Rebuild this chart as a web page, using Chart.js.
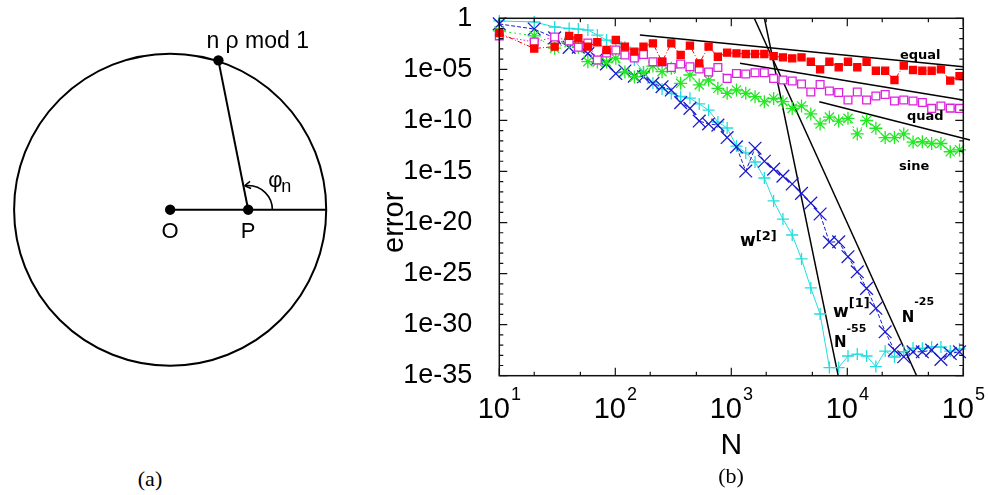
<!DOCTYPE html>
<html>
<head>
<meta charset="utf-8">
<script src="https://cdn.jsdelivr.net/npm/chart.js"></script>
<style>
  html, body { margin: 0; padding: 0; background: #fff; }
  body { width: 988px; height: 495px; position: relative; overflow: hidden; }
  #panelA { position: absolute; left: 0; top: 0; width: 340px; height: 420px; }
  #panelB { position: absolute; left: 380px; top: 0; width: 608px; height: 495px; }
  .cap { position: absolute; font-family: 'Liberation Serif', serif; font-size: 22px; color: #000;
         transform: translate(-50%, -50%); white-space: nowrap; }
</style>
</head>
<body>
<div id="panelA"><canvas id="circleChart"></canvas></div>
<div id="panelB"><canvas id="errorChart"></canvas></div>
<div class="cap" style="left:150px; top:479px">(a)</div>
<div class="cap" style="left:731px; top:476px">(b)</div>
<script>
// ---- panel (a): unit circle geometry, in circle units ----
const circleRadius = 1;
const pointO = { x: 0, y: 0 };
const pointP = { x: 0.5, y: 0 };
const pointQ = { x: 0.309, y: 0.951 };   // n rho mod 1 on the circle
const pointEdge = { x: 1, y: 0 };
const phiArcRadius = 0.155;

// ---- panel (b): error vs N ----
const nValues = [10, 20, 30, 40, 48, 58, 70, 84, 101, 121, 146, 175, 211, 253, 304, 366, 440, 529, 637, 766,
  921, 1108, 1332, 1602, 1927, 2317, 2787, 3351, 4030, 4847, 5829, 7010, 8430, 10138, 12192, 14662, 17633,
  21206, 25502, 30669, 36882, 44354, 53340, 64147, 77143, 92772];

const errEqual = [3.6e-2, 1.1e-3, 1.7e-3, 1.9e-2, 1.1e-2, 1.7e-3, 4.5e-3, 7.9e-4, 7.4e-3, 1.7e-3,
  5.4e-4, 1.7e-3, 3.5e-3, 5.6e-5, 3.5e-3, 2.6e-4, 2.1e-3, 3.9e-5, 1.7e-3, 1.7e-4,
  4.3e-4, 3.7e-4, 3.2e-4, 3.2e-4, 3.2e-4, 2.0e-4, 1.5e-4, 1.2e-4, 1.5e-4, 5.6e-5,
  1.0e-5, 5.6e-5, 1.6e-5, 5.6e-5, 1.6e-5, 5.6e-5, 7.4e-6, 7.4e-6, 9.1e-7, 2.3e-5,
  8.7e-6, 7.4e-6, 7.4e-6, 1.0e-5, 7.8e-7, 2.2e-6];

const errQuad = [1.9e-2, 4.8e-3, 1.5e-2, 6.0e-3, 1.5e-3, 3.8e-3, 8.3e-5, 4.0e-4, 7.9e-4, 2.6e-4,
  1.3e-4, 2.8e-4, 5.6e-5, 5.2e-5, 1.5e-5, 3.3e-5, 1.8e-5, 1.1e-5, 5.5e-6, 1.5e-5,
  1.3e-6, 3.9e-6, 3.5e-6, 4.7e-6, 4.7e-6, 1.3e-6, 9.1e-7, 7.2e-7, 3.7e-7, 6.0e-8,
  3.3e-7, 7.6e-8, 5.4e-8, 1.0e-8, 6.0e-8, 1.0e-8, 2.5e-8, 3.5e-8, 7.9e-9, 9.8e-9,
  7.9e-9, 5.6e-9, 1.5e-9, 2.6e-9, 1.6e-9, 1.5e-9];

const errSine = [5.8e-2, 1.9e-2, 1.2e-3, 4.1e-3, 1.5e-3, 5.6e-5, 5.2e-5, 5.2e-5, 1.2e-4, 5.5e-6,
  1.8e-6, 4.9e-6, 2.1e-5, 5.9e-6, 1.3e-5, 4.3e-7, 2.8e-6, 3.0e-7, 9.1e-7, 1.4e-7,
  4.5e-8, 9.5e-8, 4.5e-8, 2.1e-8, 6.8e-9, 1.4e-8, 6.8e-9, 1.5e-9, 2.6e-9, 4.3e-10,
  4.5e-11, 2.1e-10, 8.7e-11, 1.6e-10, 4.7e-12, 9.8e-11, 1.7e-11, 2.1e-12, 2.1e-12, 4.7e-12,
  7.6e-13, 8.1e-13, 5.5e-13, 5.5e-13, 8.5e-14, 1.3e-13];

const errW1 = [2.8e-1, 8.9e-2, 1.2e-2, 1.4e-3, 1.5e-3, 3.5e-4, 1.1e-4, 3.5e-5, 3.9e-6, 6.9e-6,
  2.2e-6, 1.9e-6, 4.3e-7, 2.0e-7, 9.5e-8, 5.6e-9, 1.5e-9, 8.7e-11, 4.5e-11, 3.5e-11,
  2.1e-12, 2.6e-13, 1.1e-15, 1.9e-13, 1.0e-14, 1.7e-15, 3.5e-16, 5.9e-17, 7.2e-18, 8.1e-19,
  6.8e-20, 1.2e-22, 1.3e-22, 4.5e-24, 1.5e-25, 3.6e-27, 4.0e-29, 2.0e-31, 3.2e-33, 7.2e-34,
  2.2e-33, 2.2e-33, 3.2e-33, 4.0e-34, 1.5e-33, 2.2e-33];

const errW2 = [5.5e-1, 4.4e-1, 1.4e-1, 1.0e-1, 8.9e-2, 7.1e-2, 2.3e-2, 7.4e-3, 4.8e-3, 1.5e-3,
  8.3e-5, 5.5e-6, 4.7e-7, 1.2e-7, 4.3e-8, 2.2e-8, 1.5e-8, 4.1e-9, 1.0e-9, 6.9e-11,
  1.8e-11, 3.1e-13, 6.5e-14, 8.5e-15, 2.3e-16, 1.3e-18, 2.2e-20, 6.0e-22, 2.7e-24, 3.9e-27,
  1.1e-29, 6.3e-35, 6.3e-35, 8.5e-34, 1.3e-33, 8.5e-34, 7.9e-35, 2.6e-33, 6.8e-34, 2.3e-33,
  5.1e-33, 4.8e-33, 6.5e-33, 6.5e-33, 2.6e-33, 4.1e-33];

// straight reference lines: [N start, N end], [err start, err end]
const fitEqualN = [163, 100000],  fitEqualErr = [2.3e-2, 1.8e-5];
const fitQuadN = [1189, 100000],  fitQuadErr = [3.9e-5, 1.0e-8];
const fitSineN = [5740, 114300],  fitSineErr = [6.8e-9, 1.2e-12];
const slope55N = [1930, 8350],    slope55Err = [1, 1e-35];
const slope25N = [1578, 39600],   slope25Err = [1, 1e-35];

const xMajorTicks = [10, 100, 1000, 10000, 100000];
const xMinorTicks = [20, 50, 200, 500, 2000, 5000, 20000, 50000];
const yLabelTicks = [1, 1e-5, 1e-10, 1e-15, 1e-20, 1e-25, 1e-30, 1e-35];
const yMinorTicks = [1e-1, 1e-2, 1e-3, 1e-4, 1e-6, 1e-7, 1e-8, 1e-9, 1e-11, 1e-12, 1e-13, 1e-14,
  1e-16, 1e-17, 1e-18, 1e-19, 1e-21, 1e-22, 1e-23, 1e-24, 1e-26, 1e-27, 1e-28, 1e-29,
  1e-31, 1e-32, 1e-33, 1e-34];

// in-plot labels, anchored in data coordinates
const plotLabels = [
  { text: 'equal', sup: '', n: 28400, err: 1e-4, size: 13 },
  { text: 'quad', sup: '', n: 32700, err: 1.1e-10, size: 13 },
  { text: 'sine', sup: '', n: 27900, err: 1.4e-15, size: 13 },
  { text: 'w', sup: '[2]', n: 1190, err: 5e-23, size: 17, supSize: 13, raise: 6 },
  { text: 'w', sup: '[1]', n: 7540, err: 5.5e-30, size: 17, supSize: 13, raise: 10 },
  { text: 'N', sup: '-25', n: 29400, err: 1.9e-30, size: 15, supSize: 11, raise: 17 },
  { text: 'N', sup: '-55', n: 7680, err: 6.9e-33, size: 15, supSize: 11, raise: 15 },
];

Chart.defaults.font.family = '"Liberation Sans", Arial, sans-serif';
Chart.defaults.color = '#000';

function toPoints(xs, ys) {
  return xs.map((x, i) => ({ x, y: ys[i] })).filter((p) => p.y != null);
}

// ---------- panel (a) ----------
const circleDecor = {
  id: 'circleDecor',
  afterDatasetsDraw(chart) {
    const { ctx, scales: { x, y } } = chart;
    const cx = x.getPixelForValue(pointO.x);
    const cy = y.getPixelForValue(pointO.y);
    const r = x.getPixelForValue(circleRadius) - cx;
    ctx.save();
    ctx.strokeStyle = '#000';
    ctx.lineWidth = 2;
    ctx.beginPath();
    ctx.arc(cx, cy, r, 0, Math.PI * 2);
    ctx.stroke();

    // angle phi_n at P
    const px = x.getPixelForValue(pointP.x);
    const py = y.getPixelForValue(pointP.y);
    const qx = x.getPixelForValue(pointQ.x);
    const qy = y.getPixelForValue(pointQ.y);
    const ar = x.getPixelForValue(phiArcRadius) - cx;
    const phi = Math.atan2(py - qy, qx - px);
    const end = phi - 0.05;
    ctx.lineWidth = 1.6;
    ctx.beginPath();
    ctx.arc(px, py, ar, 0, -end, true);
    ctx.stroke();
    const ex = px + ar * Math.cos(end);
    const ey = py - ar * Math.sin(end);
    const bx = Math.sin(end), by = Math.cos(end); // pointing back along the arc
    ctx.beginPath();
    for (const s of [0.55, -0.55]) {
      const rx = bx * Math.cos(s) - by * Math.sin(s);
      const ry = bx * Math.sin(s) + by * Math.cos(s);
      ctx.moveTo(ex + rx * 7, ey + ry * 7);
      ctx.lineTo(ex, ey);
    }
    ctx.stroke();

    ctx.fillStyle = '#000';
    ctx.textBaseline = 'alphabetic';
    ctx.font = '23px "Liberation Sans"';
    ctx.textAlign = 'left';
    ctx.fillText('n ρ mod 1', qx - 12, qy - 12);
    ctx.textAlign = 'center';
    ctx.font = '22px "Liberation Sans"';
    ctx.fillText('O', cx, cy + 28);
    ctx.fillText('P', px, py + 28);
    ctx.textAlign = 'left';
    ctx.fillText('φ', px + 20, py - 23);
    ctx.font = '18px "Liberation Sans"';
    ctx.fillText('n', px + 33, py - 18);
    ctx.restore();
  },
};

new Chart(document.getElementById('circleChart'), {
  type: 'scatter',
  data: {
    datasets: [
      { data: [pointO, pointEdge], showLine: true, borderColor: '#000', borderWidth: 2, pointRadius: 0, clip: false },
      { data: [pointP, pointQ], showLine: true, borderColor: '#000', borderWidth: 2, pointRadius: 0, clip: false },
      { data: [pointO, pointP, pointQ], showLine: false, pointRadius: 5.2, pointBorderWidth: 0,
        pointBackgroundColor: '#000', clip: false },
    ],
  },
  options: {
    responsive: true,
    maintainAspectRatio: false,
    animation: false,
    layout: { padding: 0 },
    plugins: { legend: { display: false }, tooltip: { enabled: false } },
    scales: {
      x: { type: 'linear', min: -1.057, max: 1.055, display: false },
      y: { type: 'linear', min: -1.306, max: 1.302, display: false },
    },
  },
  plugins: [circleDecor],
});

// ---------- panel (b) ----------
const frameAndLabels = {
  id: 'frameAndLabels',
  afterDraw(chart) {
    const { ctx, chartArea: a, scales: { x, y } } = chart;
    ctx.save();
    ctx.strokeStyle = '#111';
    ctx.lineWidth = 1.5;
    ctx.strokeRect(a.left, a.top, a.right - a.left, a.bottom - a.top);

    ctx.lineWidth = 1.2;
    ctx.beginPath();
    const xTick = (v, len) => {
      const px = x.getPixelForValue(v);
      ctx.moveTo(px, a.bottom); ctx.lineTo(px, a.bottom - len);
      ctx.moveTo(px, a.top); ctx.lineTo(px, a.top + len);
    };
    const yTick = (v, len) => {
      const py = y.getPixelForValue(v);
      ctx.moveTo(a.left, py); ctx.lineTo(a.left + len, py);
      ctx.moveTo(a.right, py); ctx.lineTo(a.right - len, py);
    };
    xMajorTicks.forEach((v) => xTick(v, 8));
    xMinorTicks.forEach((v) => xTick(v, 4));
    yLabelTicks.forEach((v) => yTick(v, 8));
    yMinorTicks.forEach((v) => yTick(v, 4));
    ctx.stroke();

    // x tick labels 10^k
    ctx.fillStyle = '#000';
    ctx.textAlign = 'left';
    ctx.textBaseline = 'alphabetic';
    for (const v of xMajorTicks) {
      const px = x.getPixelForValue(v);
      const exp = String(Math.round(Math.log10(v)));
      ctx.font = '29px "Liberation Sans"';
      const bw = ctx.measureText('10').width;
      ctx.font = '18px "Liberation Sans"';
      const sw = ctx.measureText(exp).width;
      const left = px - (bw + 1 + sw) / 2;
      ctx.font = '29px "Liberation Sans"';
      ctx.fillText('10', left, a.bottom + 42);
      ctx.font = '18px "Liberation Sans"';
      ctx.fillText(exp, left + bw + 1, a.bottom + 24);
    }

    // axis titles
    ctx.font = '30px "Liberation Sans"';
    ctx.textAlign = 'center';
    ctx.textBaseline = 'middle';
    ctx.fillText('N', (a.left + a.right) / 2, a.bottom + 70);
    ctx.save();
    ctx.translate(a.left - 104, a.top + 204);
    ctx.rotate(-Math.PI / 2);
    ctx.font = '29px "Liberation Sans"';
    ctx.fillText('error', 0, 0);
    ctx.restore();

    // in-plot labels
    ctx.textAlign = 'left';
    ctx.textBaseline = 'alphabetic';
    for (const lb of plotLabels) {
      const px = x.getPixelForValue(lb.n);
      const py = y.getPixelForValue(lb.err);
      ctx.font = `bold ${lb.size}px "DejaVu Sans"`;
      ctx.fillText(lb.text, px, py);
      if (lb.sup) {
        const w = ctx.measureText(lb.text).width;
        ctx.font = `bold ${lb.supSize}px "DejaVu Sans"`;
        ctx.fillText(lb.sup, px + w, py - lb.raise);
      }
    }
    ctx.restore();
  },
};

function seriesDataset(label, values, color, style) {
  return Object.assign({
    label,
    data: toPoints(nValues, values),
    showLine: true,
    borderColor: color,
    backgroundColor: color,
    pointBorderColor: color,
    borderWidth: 1,
    pointBorderWidth: 1.3,
    clip: false,
  }, style);
}

function refLine(ns, errs) {
  return {
    label: 'ref',
    data: toPoints(ns, errs),
    showLine: true,
    borderColor: '#000',
    borderWidth: 1.5,
    pointRadius: 0,
  };
}

const sineFit = refLine(fitSineN, fitSineErr);
sineFit.clip = false;

new Chart(document.getElementById('errorChart'), {
  type: 'scatter',
  data: {
    datasets: [
      seriesDataset('equal', errEqual, '#ff0000', { pointStyle: 'rect', pointRadius: 5, borderDash: [5, 2, 1, 2] }),
      seriesDataset('quad', errQuad, '#dd22dd', { pointStyle: 'rect', pointRadius: 5.5, pointBackgroundColor: '#fff',
        borderDash: [1.5, 2] }),
      seriesDataset('sine', errSine, '#22e822', { pointStyle: 'star', pointRadius: 6.5, borderDash: [2, 3] }),
      seriesDataset('w1', errW1, '#1a1acd', { pointStyle: 'crossRot', pointRadius: 9, borderDash: [4, 2] }),
      seriesDataset('w2', errW2, '#22dddd', { pointStyle: 'cross', pointRadius: 6 }),
      refLine(fitEqualN, fitEqualErr),
      refLine(fitQuadN, fitQuadErr),
      sineFit,
      refLine(slope55N, slope55Err),
      refLine(slope25N, slope25Err),
    ],
  },
  options: {
    responsive: true,
    maintainAspectRatio: false,
    animation: false,
    layout: { padding: { left: 0, right: 24.7, top: 18.3, bottom: 0 } },
    plugins: { legend: { display: false }, tooltip: { enabled: false } },
    scales: {
      x: {
        type: 'logarithmic',
        min: 10,
        max: 100000,
        grid: { display: false },
        border: { display: false },
        ticks: { display: false },
        afterFit: (scale) => {
          scale.height = 119.3;
          scale.paddingLeft = 0;
          scale.paddingRight = 0;
        },
      },
      y: {
        type: 'logarithmic',
        min: 1e-35,
        max: 1,
        grid: { display: false },
        border: { display: false },
        afterBuildTicks: (axis) => { axis.ticks = yLabelTicks.map((v) => ({ value: v })); },
        afterFit: (scale) => {
          scale.width = 119.3;
          scale.paddingTop = 0;
          scale.paddingBottom = 0;
        },
        ticks: {
          autoSkip: false,
          padding: 19,
          color: '#000',
          font: { size: 27 },
          callback: (v) => {
            const e = Math.round(Math.log10(v));
            return e === 0 ? '1' : '1e-' + String(-e).padStart(2, '0');
          },
        },
      },
    },
  },
  plugins: [frameAndLabels],
});
</script>
</body>
</html>
